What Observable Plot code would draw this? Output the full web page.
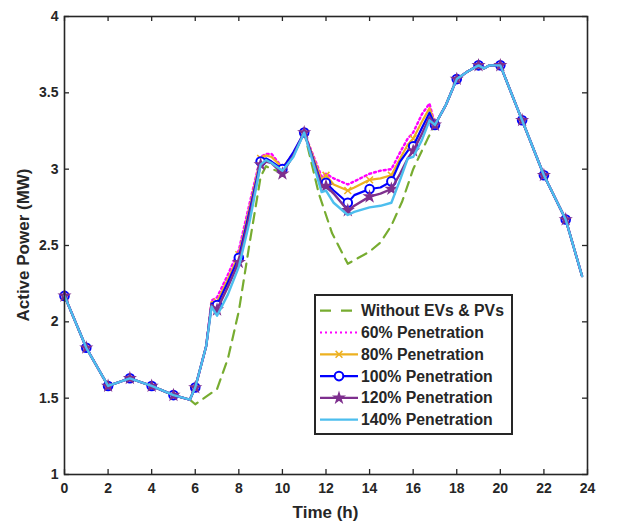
<!DOCTYPE html>
<html><head><meta charset="utf-8">
<script src="https://cdn.jsdelivr.net/npm/d3@7"></script>
<script src="https://cdn.jsdelivr.net/npm/@observablehq/plot@0.6"></script>
<style>
body{margin:0;background:#fff;}
#wrap{position:relative;width:626px;height:523px;font-family:"Liberation Sans",Arial,Helvetica,sans-serif;}
#overlay{position:absolute;left:0;top:0;pointer-events:none;}
</style>
</head><body>
<div id="wrap"></div>
<script>
// ---- data ----
const xTicks = [0,2,4,6,8,10,12,14,16,18,20,22,24];
const yTicks = [1,1.5,2,2.5,3,3.5,4];

const hours = [0,1,2,3,4,5,5.75,6,6.5,6.75,7,7.5,8,8.5,9,9.25,9.5,10,10.5,11,11.8,12,12.35,13,13.3,14,14.5,15,15.4,15.75,16,16.4,16.75,17,17.5,18,18.5,19,19.25,19.5,20,21,22,23,23.75];

const p60  = [2.17,1.83,1.58,1.63,1.58,1.52,1.49,1.57,1.84,2.14,2.16,2.31,2.47,2.78,3.08,3.10,3.10,3.01,3.10,3.24,2.95,2.97,2.94,2.90,2.92,2.97,2.99,3.00,3.11,3.20,3.24,3.36,3.43,3.29,3.42,3.59,3.64,3.68,3.66,3.68,3.68,3.32,2.96,2.67,2.30];
const p80  = [2.17,1.83,1.58,1.63,1.58,1.52,1.49,1.57,1.84,2.13,2.13,2.28,2.44,2.75,3.07,3.09,3.08,3.01,3.10,3.24,2.93,2.96,2.90,2.86,2.88,2.93,2.94,2.96,3.07,3.16,3.20,3.31,3.40,3.29,3.42,3.59,3.64,3.68,3.66,3.68,3.68,3.32,2.96,2.67,2.30];
const p100 = [2.17,1.83,1.58,1.63,1.58,1.52,1.49,1.57,1.84,2.12,2.11,2.26,2.42,2.73,3.05,3.07,3.05,3.00,3.11,3.24,2.90,2.91,2.86,2.78,2.83,2.87,2.88,2.92,3.05,3.12,3.15,3.27,3.37,3.29,3.42,3.59,3.64,3.68,3.66,3.68,3.68,3.32,2.96,2.67,2.30];
const p120 = [2.17,1.83,1.58,1.63,1.58,1.52,1.49,1.57,1.84,2.11,2.08,2.23,2.39,2.70,3.03,3.05,3.04,2.97,3.09,3.24,2.88,2.89,2.84,2.73,2.76,2.82,2.84,2.87,2.97,3.07,3.12,3.23,3.34,3.29,3.42,3.59,3.64,3.68,3.66,3.68,3.68,3.32,2.96,2.67,2.30];
const p140 = [2.17,1.83,1.58,1.63,1.58,1.52,1.49,1.57,1.84,2.10,2.04,2.18,2.36,2.66,3.03,3.06,3.04,2.99,3.08,3.24,2.85,2.86,2.78,2.70,2.72,2.75,2.76,2.78,2.93,3.07,3.08,3.19,3.32,3.29,3.42,3.59,3.64,3.68,3.66,3.68,3.68,3.32,2.96,2.67,2.30];

const baseHours = [0,1,2,3,4,5,5.75,6,6.5,7,7.5,8,8.5,9,9.25,9.5,10,10.5,11,11.67,12.28,13,14,14.5,15,15.5,16,16.7,17,17.5,18,18.5,19,19.25,19.5,20,21,22,23,23.75];
const base = [2.17,1.83,1.58,1.63,1.58,1.52,1.49,1.46,1.51,1.56,1.76,2.07,2.52,2.95,3.02,3.00,2.98,3.09,3.24,2.84,2.58,2.38,2.46,2.52,2.63,2.79,3.00,3.21,3.29,3.42,3.59,3.64,3.68,3.66,3.68,3.68,3.32,2.96,2.67,2.30];

const seriesNames = ["Without EVs & PVs","60% Penetration","80% Penetration","100% Penetration","120% Penetration","140% Penetration"];
const seriesColors = ["#77AC30","#FF00FF","#EDB120","#0000FF","#7E2F8E","#4DBEEE"];

// ---- build ----
const W = 626, H = 523, mL = 64, mR = 39, mT = 16, mB = 49;
const innerW = W - mL - mR, innerH = H - mT - mB, tickLen = 5;
const rows = (xs, vs) => xs.map((h, i) => ({h, v: vs[i]}));
const hourly = (r) => r.filter(d => Number.isInteger(d.h));
const S = [rows(baseHours, base), rows(hours, p60), rows(hours, p80), rows(hours, p100), rows(hours, p120), rows(hours, p140)];

const axisColor = "#262626";
const tickStyle = {stroke: axisColor, strokeOpacity: 1, strokeWidth: 1.3};

const chart = Plot.plot({
  width: W, height: H,
  marginLeft: mL, marginRight: mR, marginTop: mT, marginBottom: mB,
  style: {fontFamily: '"Liberation Sans", Arial, Helvetica, sans-serif', fontSize: "14px", fontWeight: "bold", color: "#262626", background: "#fff"},
  x: {domain: [0, 24]},
  y: {domain: [1, 4]},
  marks: [
    Plot.line(S[0], {x: "h", y: "v", stroke: seriesColors[0], strokeWidth: 2.2, strokeDasharray: "10,7"}),
    Plot.line(S[1], {x: "h", y: "v", stroke: seriesColors[1], strokeWidth: 2.4, strokeDasharray: "2,3"}),
    Plot.line(S[2], {x: "h", y: "v", stroke: seriesColors[2], strokeWidth: 2.2}),
    Plot.dot(hourly(S[2]), {x: "h", y: "v", symbol: "times", r: 3.2, stroke: seriesColors[2], strokeWidth: 1.5}),
    Plot.line(S[3], {x: "h", y: "v", stroke: seriesColors[3], strokeWidth: 2.2}),
    Plot.dot(hourly(S[3]), {x: "h", y: "v", symbol: "circle", r: 4.3, stroke: seriesColors[3], fill: "white", strokeWidth: 2}),
    Plot.line(S[4], {x: "h", y: "v", stroke: seriesColors[4], strokeWidth: 2.4}),
    Plot.dot(hourly(S[4]), {x: "h", y: "v", symbol: "star", r: 3, fill: seriesColors[4], stroke: seriesColors[4], strokeWidth: 1.5}),
    Plot.line(S[5], {x: "h", y: "v", stroke: seriesColors[5], strokeWidth: 2.4}),
    Plot.frame({stroke: axisColor, strokeWidth: 1.6}),
    Plot.gridX({ticks: xTicks, ...tickStyle, insetTop: innerH - tickLen}),
    Plot.gridX({ticks: xTicks, ...tickStyle, insetBottom: innerH - tickLen}),
    Plot.gridY({ticks: yTicks, ...tickStyle, insetRight: innerW - tickLen}),
    Plot.gridY({ticks: yTicks, ...tickStyle, insetLeft: innerW - tickLen}),
    Plot.axisX({ticks: xTicks, tickSize: 0, tickPadding: 9, tickFormat: d => String(d), label: null, fill: axisColor}),
    Plot.axisY({ticks: yTicks, tickSize: 0, tickPadding: 6, tickFormat: d => String(d), label: null, fill: axisColor})
  ]
});
const wrap = document.getElementById("wrap");
wrap.appendChild(chart);

// ---- overlay: axis titles and legend ----
const ov = d3.select(wrap).append("svg").attr("id", "overlay").attr("width", W).attr("height", H)
  .style("font-family", '"Liberation Sans", Arial, Helvetica, sans-serif').style("font-weight", "bold").style("fill", "#262626");
ov.append("text").attr("x", 325.5).attr("y", 518).attr("text-anchor", "middle").style("font-size", "17px").text("Time (h)");
ov.append("text").attr("transform", "translate(29,245) rotate(-90)").attr("text-anchor", "middle").style("font-size", "17px").text("Active Power (MW)");

const lg = ov.append("g");
lg.append("rect").attr("x", 315).attr("y", 295).attr("width", 197).attr("height", 139).attr("fill", "white").attr("stroke", axisColor).attr("stroke-width", 2);
seriesNames.forEach((name, i) => {
  const cy = 310.7 + i * 21.8;
  const ln = lg.append("line").attr("x1", 320).attr("x2", i === 0 ? 354 : 358).attr("y1", cy).attr("y2", cy)
    .attr("stroke", seriesColors[i]).attr("stroke-width", 2.2);
  if (i === 0) ln.attr("stroke-dasharray", "11,10");
  if (i === 1) ln.attr("stroke-dasharray", "2,3");
  const mx = 339;
  if (i === 2) lg.append("path").attr("d", d3.symbol(d3.symbolX, 32)()).attr("transform", `translate(${mx},${cy})`).attr("stroke", seriesColors[i]).attr("stroke-width", 1.5).attr("fill", "none");
  if (i === 3) lg.append("circle").attr("cx", mx).attr("cy", cy).attr("r", 4.3).attr("stroke", seriesColors[i]).attr("stroke-width", 2).attr("fill", "white");
  if (i === 4) lg.append("path").attr("d", d3.symbol(d3.symbolStar, 28)()).attr("transform", `translate(${mx},${cy})`).attr("stroke", seriesColors[i]).attr("stroke-width", 1.5).attr("fill", seriesColors[i]);
  lg.append("text").attr("x", 361).attr("y", cy).attr("dy", "0.35em").style("font-size", "15.8px").text(name);
});
</script>
</body></html>
